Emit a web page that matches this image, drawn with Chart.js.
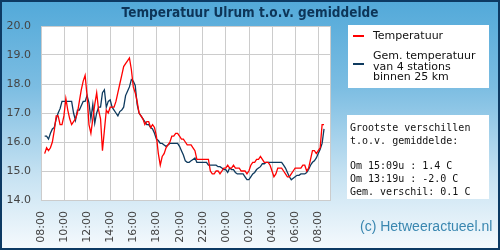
<!DOCTYPE html>
<html>
<head>
<meta charset="utf-8">
<script src="https://cdn.jsdelivr.net/npm/chart.js@4.4.1/dist/chart.umd.min.js"></script>
<style>
  html, body { margin: 0; padding: 0; background: #fff; }
  #wrap { width: 500px; height: 250px; position: relative; }
</style>
</head>
<body>
<div id="wrap"><canvas id="tempChart" width="500" height="250"></canvas></div>
<script>
// Measurements every 10 minutes, starting 08:19 (minutes after 08:00)
const firstMinute = 19;
const stepMinutes = 10;

// Temperatuur Ulrum
const tempUlrum = [
  15.6, 15.8, 15.7, 15.8, 16.0, 16.4, 16.9, 16.9, 16.6, 16.6,
  16.9, 17.5, 17.1, 16.8, 16.6, 16.7, 16.8, 17.0, 17.4, 17.8,
  18.1, 18.3, 17.6, 16.6, 16.3, 16.8, 17.3, 17.7, 17.1, 16.8,
  15.7, 16.4, 17.1, 17.0, 17.2, 17.2, 17.2, 17.4, 17.7, 18.0,
  18.3, 18.6, 18.7, 18.8, 18.9, 18.5, 17.9, 17.7, 17.4, 17.0,
  16.9, 16.8, 16.6, 16.7, 16.7, 16.5, 16.6, 16.5, 16.2, 15.6,
  15.2, 15.5, 15.6, 15.8, 15.9, 16.0, 16.2, 16.2, 16.3, 16.3,
  16.2, 16.1, 16.1, 16.0, 15.9, 15.9, 15.9, 15.8, 15.7, 15.4,
  15.4, 15.4, 15.4, 15.4, 15.4, 15.4, 15.0, 14.9, 14.9, 15.0,
  15.0, 14.9, 15.0, 15.1, 15.1, 15.2, 15.1, 15.1, 15.2, 15.1,
  15.1, 15.1, 15.0, 15.0, 15.0, 14.9, 15.0, 15.2, 15.3, 15.3,
  15.4, 15.4, 15.5, 15.4, 15.3, 15.3, 15.3, 15.2, 15.0, 14.8,
  14.9, 15.1, 15.1, 15.1, 15.0, 14.9, 14.8, 14.8, 14.9, 15.0,
  15.1, 15.1, 15.1, 15.1, 15.2, 15.2, 15.0, 15.1, 15.4, 15.7,
  15.7, 15.6, 15.7, 15.8, 16.6, 16.6
];

// Gem. temperatuur van 4 stations binnen 25 km
const tempAverage = [
  16.2, 16.2, 16.1, 16.3, 16.45, 16.5, 16.8, 17.0, 17.15, 17.4,
  17.4, 17.4, 17.4, 17.4, 17.4, 17.0, 16.75, 17.1, 17.1, 17.25,
  17.4, 17.4, 17.6, 17.35, 16.8, 17.3, 16.65, 17.0, 17.2, 17.2,
  17.7, 17.8, 17.2, 17.4, 17.45, 17.2, 17.1, 17.0, 16.9, 17.05,
  17.1, 17.2, 17.6, 17.75, 17.9, 18.15, 18.1, 17.95, 17.3, 17.0,
  16.9, 16.8, 16.7, 16.6, 16.6, 16.5, 16.45, 16.3, 16.1, 16.05,
  15.95, 15.95, 15.9, 15.85, 15.9, 15.95, 15.95, 15.95, 15.95, 15.95,
  15.85, 15.7, 15.55, 15.35, 15.3, 15.3, 15.35, 15.4, 15.45, 15.3,
  15.3, 15.3, 15.3, 15.3, 15.3, 15.2, 15.2, 15.2, 15.2, 15.2,
  15.15, 15.15, 15.1, 15.05, 15.05, 14.95, 15.1, 15.05, 15.05, 14.95,
  14.9, 14.9, 14.9, 14.9, 14.8, 14.7, 14.7, 14.8, 14.9, 14.95,
  15.05, 15.1, 15.15, 15.25, 15.25, 15.3, 15.3, 15.3, 15.3, 15.3,
  15.3, 15.3, 15.3, 15.3, 15.2, 15.1, 14.95, 14.8, 14.7, 14.75,
  14.8, 14.85, 14.85, 14.9, 14.9, 14.9, 14.95, 15.05, 15.2, 15.3,
  15.35, 15.45, 15.6, 15.75, 15.95, 16.45
];

const hourLabels = ['08:00', '10:00', '12:00', '14:00', '16:00', '18:00', '20:00',
                    '22:00', '00:00', '02:00', '04:00', '06:00', '08:00'];

const titleText = 'Temperatuur Ulrum t.o.v. gemiddelde';
const legendItems = [
  { color: '#ff0000', lines: ['Temperatuur'] },
  { color: '#0e3a5e', lines: ['Gem. temperatuur', 'van 4 stations', 'binnen 25 km'] }
];
const infoLines = ['Grootste verschillen', 't.o.v. gemiddelde:', '',
                   'Om 15:09u : 1.4 C', 'Om 13:19u : -2.0 C', 'Gem. verschil: 0.1 C'];
const creditText = '(c) Hetweeractueel.nl';

const minutes = tempUlrum.map((_, i) => firstMinute + i * stepMinutes);
const toPoints = arr => arr.map((v, i) => ({ x: minutes[i], y: v }));

const decorPlugin = {
  id: 'decor',
  beforeDraw(chart) {
    const { ctx, chartArea: a } = chart;
    ctx.save();
    const g = ctx.createLinearGradient(0, 0, 0, 250);
    g.addColorStop(0, '#52a9d9');
    g.addColorStop(0.35, '#7cbde2');
    g.addColorStop(0.7, '#c6e2f2');
    g.addColorStop(1, '#f6fafd');
    ctx.fillStyle = g;
    ctx.fillRect(0, 0, 500, 250);
    ctx.fillStyle = '#fff';
    ctx.fillRect(a.left, a.top, a.right - a.left, a.bottom - a.top);
    // legend + info boxes
    ctx.fillRect(348, 25, 141, 63);
    ctx.fillRect(347, 115, 142, 84);
    ctx.restore();
  },
  afterDraw(chart) {
    const { ctx, chartArea: a } = chart;
    ctx.save();
    // right border of plot
    ctx.strokeStyle = '#cccccc';
    ctx.lineWidth = 1;
    ctx.beginPath();
    ctx.moveTo(Math.round(a.right) + 0.5, a.top);
    ctx.lineTo(Math.round(a.right) + 0.5, a.bottom);
    ctx.stroke();

    // title
    ctx.font = 'bold 14px "DejaVu Sans"';
    ctx.fillStyle = '#0d3558';
    ctx.textBaseline = 'alphabetic';
    ctx.textAlign = 'center';
    const w = ctx.measureText(titleText).width;
    ctx.save();
    ctx.translate(250, 17);
    ctx.scale(257 / w, 1);
    ctx.fillText(titleText, 0, 0);
    ctx.restore();

    // legend
    ctx.textAlign = 'left';
    ctx.font = '11px "DejaVu Sans"';
    ctx.fillStyle = '#111';
    let y = 39;
    legendItems.forEach((item, idx) => {
      const lineY = idx === 0 ? 36 : 64;
      ctx.strokeStyle = item.color;
      ctx.lineWidth = 2;
      ctx.beginPath();
      ctx.moveTo(353, lineY);
      ctx.lineTo(364, lineY);
      ctx.stroke();
      if (idx === 1) y = 59;
      item.lines.forEach(t => {
        ctx.fillText(t, 373, y);
        y += 10.5;
      });
    });

    // info box
    ctx.font = '10px "DejaVu Sans Mono"';
    ctx.fillStyle = '#111';
    infoLines.forEach((t, i) => {
      ctx.fillText(t, 350, 131 + i * 12.7);
    });

    // credit
    ctx.font = '14px "Liberation Sans"';
    ctx.fillStyle = '#3a87b0';
    ctx.fillText(creditText, 360, 231);

    // outer frame
    ctx.strokeStyle = '#0d3a63';
    ctx.lineWidth = 2;
    ctx.strokeRect(1, 1, 498, 248);
    ctx.restore();
  }
};

function initChart() {
  const ctx = document.getElementById('tempChart').getContext('2d');
  return new Chart(ctx, {
    type: 'line',
    data: {
      datasets: [{
        label: 'Temperatuur',
        data: toPoints(tempUlrum),
        borderColor: '#ff0000',
        borderWidth: 1.3,
        pointRadius: 0,
        tension: 0,
        fill: false
      }, {
        label: 'Gem. temperatuur',
        data: toPoints(tempAverage),
        borderColor: '#0e3a5e',
        borderWidth: 1.3,
        pointRadius: 0,
        tension: 0,
        fill: false
      }]
    },
    options: {
      responsive: false,
      animation: false,
      events: [],
      layout: { padding: { left: 0, top: 26, right: 170, bottom: 0 } },
      plugins: {
        legend: { display: false },
        title: { display: false },
        tooltip: { enabled: false }
      },
      scales: {
        x: {
          type: 'linear',
          min: 0,
          max: 1500,
          afterBuildTicks: scale => {
            scale.ticks = hourLabels.map((_, i) => ({ value: i * 120 }));
          },
          afterFit: scale => { scale.height = 50; },
          grid: { color: '#cccccc', drawTicks: false },
          border: { color: '#cccccc' },
          ticks: {
            autoSkip: false,
            minRotation: 90,
            maxRotation: 90,
            padding: 11,
            color: '#444',
            font: { family: 'DejaVu Sans', size: 11 },
            callback: value => hourLabels[Math.round(value / 120)]
          }
        },
        y: {
          min: 14,
          max: 20,
          afterFit: scale => { scale.width = 41; },
          grid: { color: '#cccccc', drawTicks: false },
          border: { color: '#cccccc' },
          ticks: {
            stepSize: 1,
            padding: 10,
            color: '#444',
            font: { family: 'DejaVu Sans', size: 11 },
            callback: value => value.toFixed(1)
          }
        }
      }
    },
    plugins: [decorPlugin]
  });
}

initChart();
</script>
</body>
</html>
